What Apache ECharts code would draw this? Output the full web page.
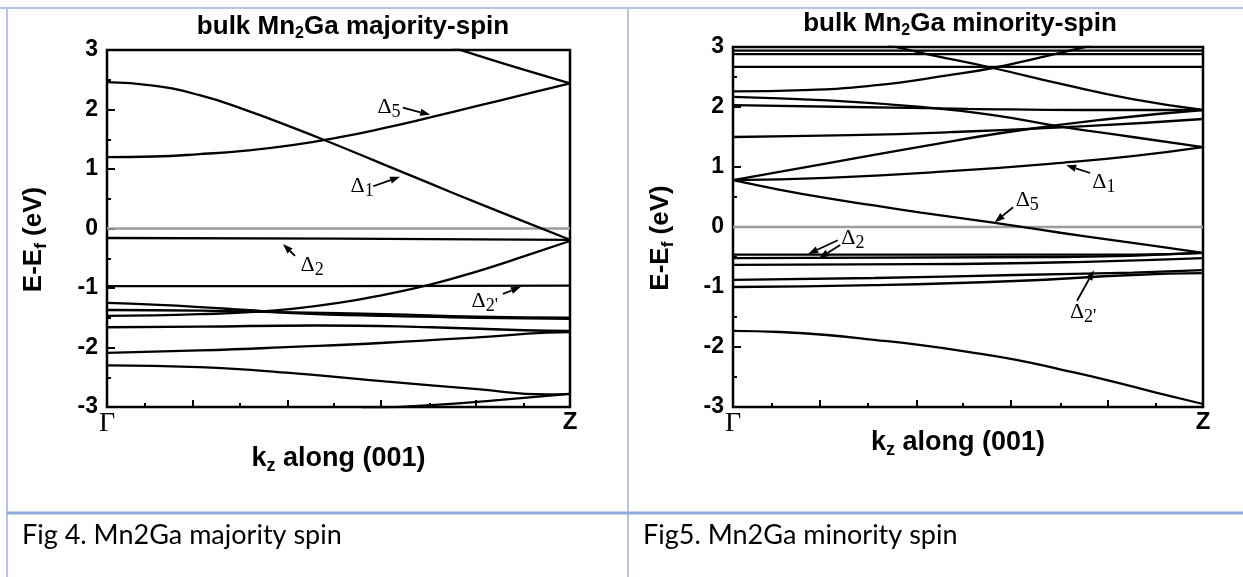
<!DOCTYPE html>
<html><head><meta charset="utf-8">
<script src="https://cdn.jsdelivr.net/npm/echarts@6/dist/echarts.min.js"></script>
<style>html,body{margin:0;padding:0;background:#fff}#c{width:1243px;height:577px}</style>
</head><body><div id="c"></div><script>
// ---------- data ----------
const kTickMajor = [0.185, 0.39, 0.592, 0.797];
const kTickMinor = [0.082, 0.287, 0.489, 0.697, 0.9];
const kLabels = ['Γ', 'Z'];
const fermiLevel = [[0, 0], [1, 0]];

// majority spin bands [k, E-Ef]
const majBand1 = [[0,2.46],[0.1,2.40],[0.2,2.24],[0.3,1.99],[0.4,1.70],[0.5,1.39],[0.6,1.07],[0.7,0.75],[0.8,0.43],[0.9,0.12],[1,-0.19]];
const majBand2 = [[0,1.20],[0.1,1.21],[0.2,1.25],[0.3,1.31],[0.4,1.40],[0.5,1.53],[0.6,1.69],[0.7,1.87],[0.8,2.06],[0.9,2.25],[1,2.44]];
const majBand3 = [[0.74,3.06],[0.8,2.91],[0.9,2.67],[1,2.44]];
const majBand4 = [[0,-0.16],[0.5,-0.17],[1,-0.19]];
const majBand5 = [[0,-0.97],[0.5,-0.97],[1,-0.96]];
const majBand6 = [[0,-1.47],[0.1,-1.46],[0.2,-1.44],[0.3,-1.41],[0.4,-1.35],[0.5,-1.25],[0.6,-1.11],[0.7,-0.94],[0.8,-0.72],[0.9,-0.47],[1,-0.21]];
const majBand7 = [[0,-1.25],[0.1,-1.28],[0.2,-1.32],[0.3,-1.37],[0.4,-1.42],[0.6,-1.47],[0.8,-1.50],[1,-1.52]];
const majBand8 = [[0,-1.37],[0.2,-1.38],[0.4,-1.41],[0.6,-1.44],[0.8,-1.48],[1,-1.50]];
const majBand9 = [[0,-1.66],[0.2,-1.65],[0.45,-1.63],[0.7,-1.66],[0.9,-1.71],[1,-1.72]];
const majBand10 = [[0,-2.09],[0.2,-2.05],[0.4,-1.99],[0.6,-1.92],[0.8,-1.83],[0.95,-1.75],[1,-1.74]];
const majBand11 = [[0,-2.30],[0.2,-2.33],[0.4,-2.43],[0.6,-2.57],[0.8,-2.70],[0.95,-2.79],[1,-2.78]];
const majBand12 = [[0.55,-3.03],[0.7,-2.97],[0.85,-2.88],[1,-2.78]];

// minority spin bands [k, E-Ef]
const minBand1 = [[0,2.94],[1,2.94]];
const minBand2 = [[0,2.88],[1,2.88]];
const minBand3 = [[0,2.67],[1,2.67]];
const minBand4 = [[0.33,3.03],[0.42,2.87],[0.553,2.65],[0.7,2.38],[0.85,2.13],[1,1.95]];
const minBand5 = [[0,2.26],[0.15,2.28],[0.3,2.36],[0.46,2.53],[0.553,2.65],[0.65,2.82],[0.76,3.02]];
const minBand6 = [[0,2.17],[0.2,2.11],[0.4,2.0],[0.55,1.87],[0.7,1.67],[0.85,1.50],[1,1.33]];
const minBand7 = [[0,2.03],[0.25,2.0],[0.5,1.97],[0.75,1.95],[1,1.95]];
const minBand8 = [[0,1.50],[0.25,1.53],[0.46,1.58],[0.75,1.68],[1,1.80]];
const minBand9 = [[0,0.78],[0.2,1.06],[0.4,1.34],[0.6,1.60],[0.8,1.80],[1,1.95]];
const minBand10 = [[0,0.78],[0.2,0.82],[0.46,0.93],[0.7,1.07],[0.85,1.18],[1,1.33]];
const minBand11 = [[0,0.78],[0.1,0.62],[0.2,0.48],[0.3,0.36],[0.4,0.24],[0.5,0.13],[0.6,0.02],[0.7,-0.10],[0.8,-0.21],[0.9,-0.32],[1,-0.43]];
const minBand12 = [[0,-0.46],[0.85,-0.46],[1,-0.43]];
const minBand13 = [[0,-0.52],[0.7,-0.50],[1,-0.43]];
const minBand14 = [[0,-0.63],[0.4,-0.62],[0.75,-0.58],[1,-0.52]];
const minBand15 = [[0,-0.88],[0.3,-0.85],[0.6,-0.80],[0.85,-0.76],[1,-0.72]];
const minBand16 = [[0,-1.0],[0.3,-0.97],[0.6,-0.90],[0.85,-0.80],[1,-0.77]];
const minBand17 = [[0,-1.73],[0.1,-1.75],[0.2,-1.80],[0.3,-1.88],[0.4,-1.97],[0.5,-2.08],[0.6,-2.21],[0.7,-2.38],[0.8,-2.56],[0.9,-2.76],[1,-2.95]];

const majBands = [majBand1,majBand2,majBand3,majBand4,majBand5,majBand6,majBand7,majBand8,majBand9,majBand10,majBand11,majBand12];
const minBands = [minBand1,minBand2,minBand3,minBand4,minBand5,minBand6,minBand7,minBand8,minBand9,minBand10,minBand11,minBand12,minBand13,minBand14,minBand15,minBand16,minBand17];

const titles = ['bulk Mn|2|Ga majority-spin', 'bulk Mn|2|Ga minority-spin'];
const captions = ['Fig 4. Mn2Ga majority spin', 'Fig5. Mn2Ga minority spin'];

// annotations: [label, subscript, textK, textE, tailK, tailE, headK, headE]
const majNotes = [
  ['Δ','5', 0.609, 2.04, 0.639, 2.03, 0.698, 1.91],
  ['Δ','1', 0.551, 0.71, 0.575, 0.71, 0.633, 0.87],
  ['Δ','2', 0.443, -0.61, 0.406, -0.46, 0.380, -0.26],
  ['Δ',"2'", 0.816, -1.22, 0.855, -1.10, 0.894, -0.98]
];
const minNotes = [
  ['Δ','1', 0.789, 0.75, 0.760, 0.90, 0.709, 1.03],
  ['Δ','5', 0.626, 0.45, 0.596, 0.33, 0.557, 0.08],
  ['Δ','2', 0.255, -0.18, 0.223, -0.22, 0.160, -0.45],
  [null,null, 0, 0, 0.228, -0.30, 0.183, -0.52],
  ['Δ',"2'", 0.745, -1.42, 0.732, -1.23, 0.768, -0.72]
];

// ---------- chart ----------
const chart = echarts.init(document.getElementById('c'));
const SANS = 'Liberation Sans';
const SERIF = 'Liberation Serif';

function mainX(grid, nameGap, padRight) {
  return {
    gridIndex: grid, type: 'value', min: 0, max: 1, position: 'bottom',
    axisLine: {show: false}, axisTick: {show: false}, splitLine: {show: false},
    axisLabel: {
      customValues: [0, 1], margin: 3,
      formatter: v => v === 0 ? '{g|' + kLabels[0] + '}' : '{z|' + kLabels[1] + '}',
      rich: {
        g: {fontFamily: SERIF, fontSize: 28, color: '#000'},
        z: {fontFamily: SANS, fontWeight: 'bold', fontSize: 24, color: '#000'}
      }
    },
    name: '{n|k}{s|z}{n| along (001)}', nameLocation: 'middle', nameGap: nameGap,
    nameMoveOverlap: false,
    nameTextStyle: {padding: [0, padRight, 0, 0], rich: {
      n: {fontFamily: SANS, fontWeight: 'bold', fontSize: 27, color: '#000', lineHeight: 32},
      s: {fontFamily: SANS, fontWeight: 'bold', fontSize: 18, color: '#000', lineHeight: 16, verticalAlign: 'bottom'}
    }}
  };
}
function tickX(grid, values, len) {
  return {
    gridIndex: grid, type: 'value', min: 0, max: 1, position: 'bottom',
    axisLine: {show: false}, splitLine: {show: false}, axisLabel: {show: false},
    axisTick: {show: true, inside: true, length: len, customValues: values, lineStyle: {color: '#000', width: 2}}
  };
}
function yAx(grid, nameGap) {
  return {
    gridIndex: grid, type: 'value', min: -3, max: 3, interval: 1,
    axisLine: {show: false}, splitLine: {show: false},
    axisTick: {show: true, inside: true, length: 8, lineStyle: {color: '#000', width: 2}},
    minorTick: {show: true, splitNumber: 2, length: 4, lineStyle: {color: '#000', width: 2}},
    axisLabel: {margin: 9, color: '#000', fontFamily: SANS, fontWeight: 'bold', fontSize: 23},
    name: '{n|E-E}{s|f}{n| (eV)}', nameLocation: 'middle', nameGap: nameGap,
    nameMoveOverlap: false,
    nameTextStyle: {padding: [0, 22, 0, 0], rich: {
      n: {fontFamily: SANS, fontWeight: 'bold', fontSize: 26, color: '#000', lineHeight: 32},
      s: {fontFamily: SANS, fontWeight: 'bold', fontSize: 17, color: '#000', lineHeight: 15, verticalAlign: 'bottom'}
    }}
  };
}
function bandSeries(data, xi, yi, color, width, z) {
  return {
    type: 'line', xAxisIndex: xi, yAxisIndex: yi, data: data,
    showSymbol: false, symbol: 'none', smooth: 0.5,
    lineStyle: {color: color, width: width}, silent: true, animation: false, z: z
  };
}

const series = [];
series.push(bandSeries(fermiLevel, 0, 0, '#9c9c9c', 2.6, 2));
series.push(bandSeries(fermiLevel, 3, 1, '#9c9c9c', 2.6, 2));
majBands.forEach(b => series.push(bandSeries(b, 0, 0, '#000', 2.3, 3)));
minBands.forEach(b => series.push(bandSeries(b, 3, 1, '#000', 2.3, 3)));

const option = {
  backgroundColor: '#fff',
  animation: false,
  grid: [
    {left: 107, top: 50, width: 463, height: 357, show: true, borderColor: '#000', borderWidth: 2.5, backgroundColor: 'transparent'},
    {left: 733, top: 47, width: 470, height: 360, show: true, borderColor: '#000', borderWidth: 2.5, backgroundColor: 'transparent'}
  ],
  xAxis: [
    mainX(0, 36, 0), tickX(0, kTickMajor, 7), tickX(0, kTickMinor, 4),
    mainX(1, 20, 20), tickX(1, kTickMajor, 7), tickX(1, kTickMinor, 4)
  ],
  yAxis: [yAx(0, 57), yAx(1, 56)],
  series: series
};
chart.setOption(option);

// ---------- graphic: table, titles, captions, annotations ----------
const BLUE = '#b4c6e7', BLUE_DARK = '#8eaadb';
const g = [];
g.push({type: 'line', shape: {x1: 0, y1: 8, x2: 1243, y2: 8}, style: {stroke: BLUE, lineWidth: 2}, z: 10});
g.push({type: 'line', shape: {x1: 7, y1: 8, x2: 7, y2: 577}, style: {stroke: BLUE, lineWidth: 2}, z: 10});
g.push({type: 'line', shape: {x1: 628, y1: 8, x2: 628, y2: 577}, style: {stroke: BLUE, lineWidth: 2}, z: 10});
g.push({type: 'line', shape: {x1: 7, y1: 513, x2: 1243, y2: 513}, style: {stroke: BLUE_DARK, lineWidth: 3}, z: 11});

const titleX = [353, 960], titleY = [27, 24];
titles.forEach((t, i) => {
  const parts = t.split('|');
  g.push({type: 'text', x: titleX[i], y: titleY[i], z: 10, style: {
    text: '{n|' + parts[0] + '}{s|' + parts[1] + '}{n|' + parts[2] + '}',
    align: 'center', verticalAlign: 'middle',
    rich: {
      n: {fontFamily: SANS, fontWeight: 'bold', fontSize: 26, fill: '#000', lineHeight: 30},
      s: {fontFamily: SANS, fontWeight: 'bold', fontSize: 16, fill: '#000', lineHeight: 12, verticalAlign: 'bottom'}
    }
  }});
});
const capX = [22, 643];
captions.forEach((c, i) => {
  g.push({type: 'text', x: capX[i], y: 535, z: 10, style: {
    text: c, fontFamily: 'Lato', fontSize: 27, fill: '#000', align: 'left', verticalAlign: 'middle'
  }});
});

function addNotes(notes, xi, yi) {
  notes.forEach(n => {
    const tail = chart.convertToPixel({xAxisIndex: xi, yAxisIndex: yi}, [n[4], n[5]]);
    const head = chart.convertToPixel({xAxisIndex: xi, yAxisIndex: yi}, [n[6], n[7]]);
    const dx = head[0] - tail[0], dy = head[1] - tail[1];
    const L = Math.sqrt(dx * dx + dy * dy) || 1;
    const ux = dx / L, uy = dy / L;
    const bx = head[0] - ux * 10, by = head[1] - uy * 10;
    g.push({type: 'line', shape: {x1: tail[0], y1: tail[1], x2: bx, y2: by}, style: {stroke: '#000', lineWidth: 1.8}, z: 12});
    g.push({type: 'polygon', shape: {points: [head, [bx - uy * 3.6, by + ux * 3.6], [bx + uy * 3.6, by - ux * 3.6]]}, style: {fill: '#000'}, z: 12});
    if (n[0]) {
      const p = chart.convertToPixel({xAxisIndex: xi, yAxisIndex: yi}, [n[2], n[3]]);
      g.push({type: 'text', x: p[0], y: p[1], z: 12, style: {
        text: '{d|' + n[0] + '}{s|' + n[1] + '}', align: 'center', verticalAlign: 'middle',
        rich: {
          d: {fontFamily: SERIF, fontSize: 22, fill: '#000', lineHeight: 28},
          s: {fontFamily: SERIF, fontSize: 18, fill: '#000', lineHeight: 15, verticalAlign: 'bottom'}
        }
      }});
    }
  });
}
addNotes(majNotes, 0, 0);
addNotes(minNotes, 3, 1);
chart.setOption({graphic: g});
</script></body></html>
